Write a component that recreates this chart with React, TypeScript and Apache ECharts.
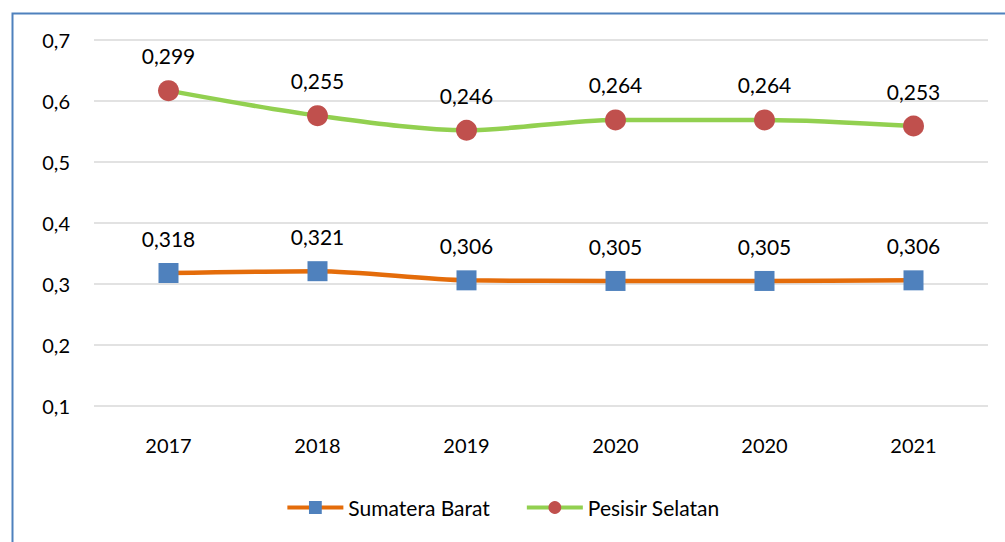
import React, { useEffect, useRef } from "react";
import * as echarts from "echarts";

const categories = ["2017", "2018", "2019", "2020", "2020", "2021"];
const sumateraBarat = [0.318, 0.321, 0.306, 0.305, 0.305, 0.306];
const pesisirSelatan = [0.299, 0.255, 0.246, 0.264, 0.264, 0.253];
const yTicks = { min: 0.1, max: 0.7, interval: 0.1 };

const FONT = "Lato, 'Open Sans', sans-serif";
const FS = 21;
const fmt = (v: number, d: number) => v.toFixed(d).replace(".", ",");

export default function App() {
  const ref = useRef<HTMLDivElement>(null);
  useEffect(() => {
    const chart = echarts.init(ref.current!, null, { renderer: "svg" });
    const label = {
      show: true,
      position: "top",
      distance: 14,
      color: "#000",
      fontSize: FS,
      fontFamily: FONT,
      formatter: (p: any) => fmt(p.value, 3),
    };
    chart.setOption({
      animation: false,
      backgroundColor: "#ffffff",
      textStyle: { fontFamily: FONT },
      grid: { left: 94, right: 17, top: 40, bottom: 136 },
      graphic: [
        {
          type: "rect",
          left: 10,
          top: 11,
          shape: { width: 1100, height: 600 },
          style: { fill: "none", stroke: "#4F81BD", lineWidth: 2 },
          silent: true,
        },
      ],
      xAxis: {
        type: "category",
        data: categories,
        boundaryGap: true,
        axisLine: { show: false },
        axisTick: { show: false },
        axisLabel: { color: "#000", fontSize: 20, margin: 29, fontFamily: FONT },
      },
      yAxis: {
        type: "value",
        min: yTicks.min,
        max: yTicks.max,
        interval: yTicks.interval,
        axisLine: { show: false },
        axisTick: { show: false },
        splitLine: { lineStyle: { color: "#D9D9D9", width: 1.5 } },
        axisLabel: {
          color: "#000",
          fontSize: 20,
          margin: 24,
          fontFamily: FONT,
          formatter: (v: number) => fmt(v, 1),
        },
      },
      legend: {
        bottom: 19,
        left: "center",
        itemWidth: 56,
        itemHeight: 16,
        itemGap: 35,
        lineStyle: { width: 4 },
        textStyle: { color: "#000", fontSize: FS, fontFamily: FONT },
        data: ["Sumatera Barat", "Pesisir Selatan"],
      },
      series: [
        {
          name: "Sumatera Barat",
          type: "line",
          stack: "total",
          smooth: 0.3,
          data: sumateraBarat,
          symbol: "rect",
          symbolSize: 20,
          itemStyle: { color: "#4F81BD" },
          lineStyle: { color: "#E46C0A", width: 4.5 },
          label,
        },
        {
          name: "Pesisir Selatan",
          type: "line",
          stack: "total",
          smooth: 0.3,
          data: pesisirSelatan,
          symbol: "circle",
          symbolSize: 21,
          itemStyle: { color: "#C0504D" },
          lineStyle: { color: "#92D050", width: 4.5 },
          label,
        },
      ],
    });
    return () => chart.dispose();
  }, []);
  return (
    <div
      ref={ref}
      style={{ position: "absolute", left: 0, top: 0, width: 1005, height: 542 }}
    />
  );
}
